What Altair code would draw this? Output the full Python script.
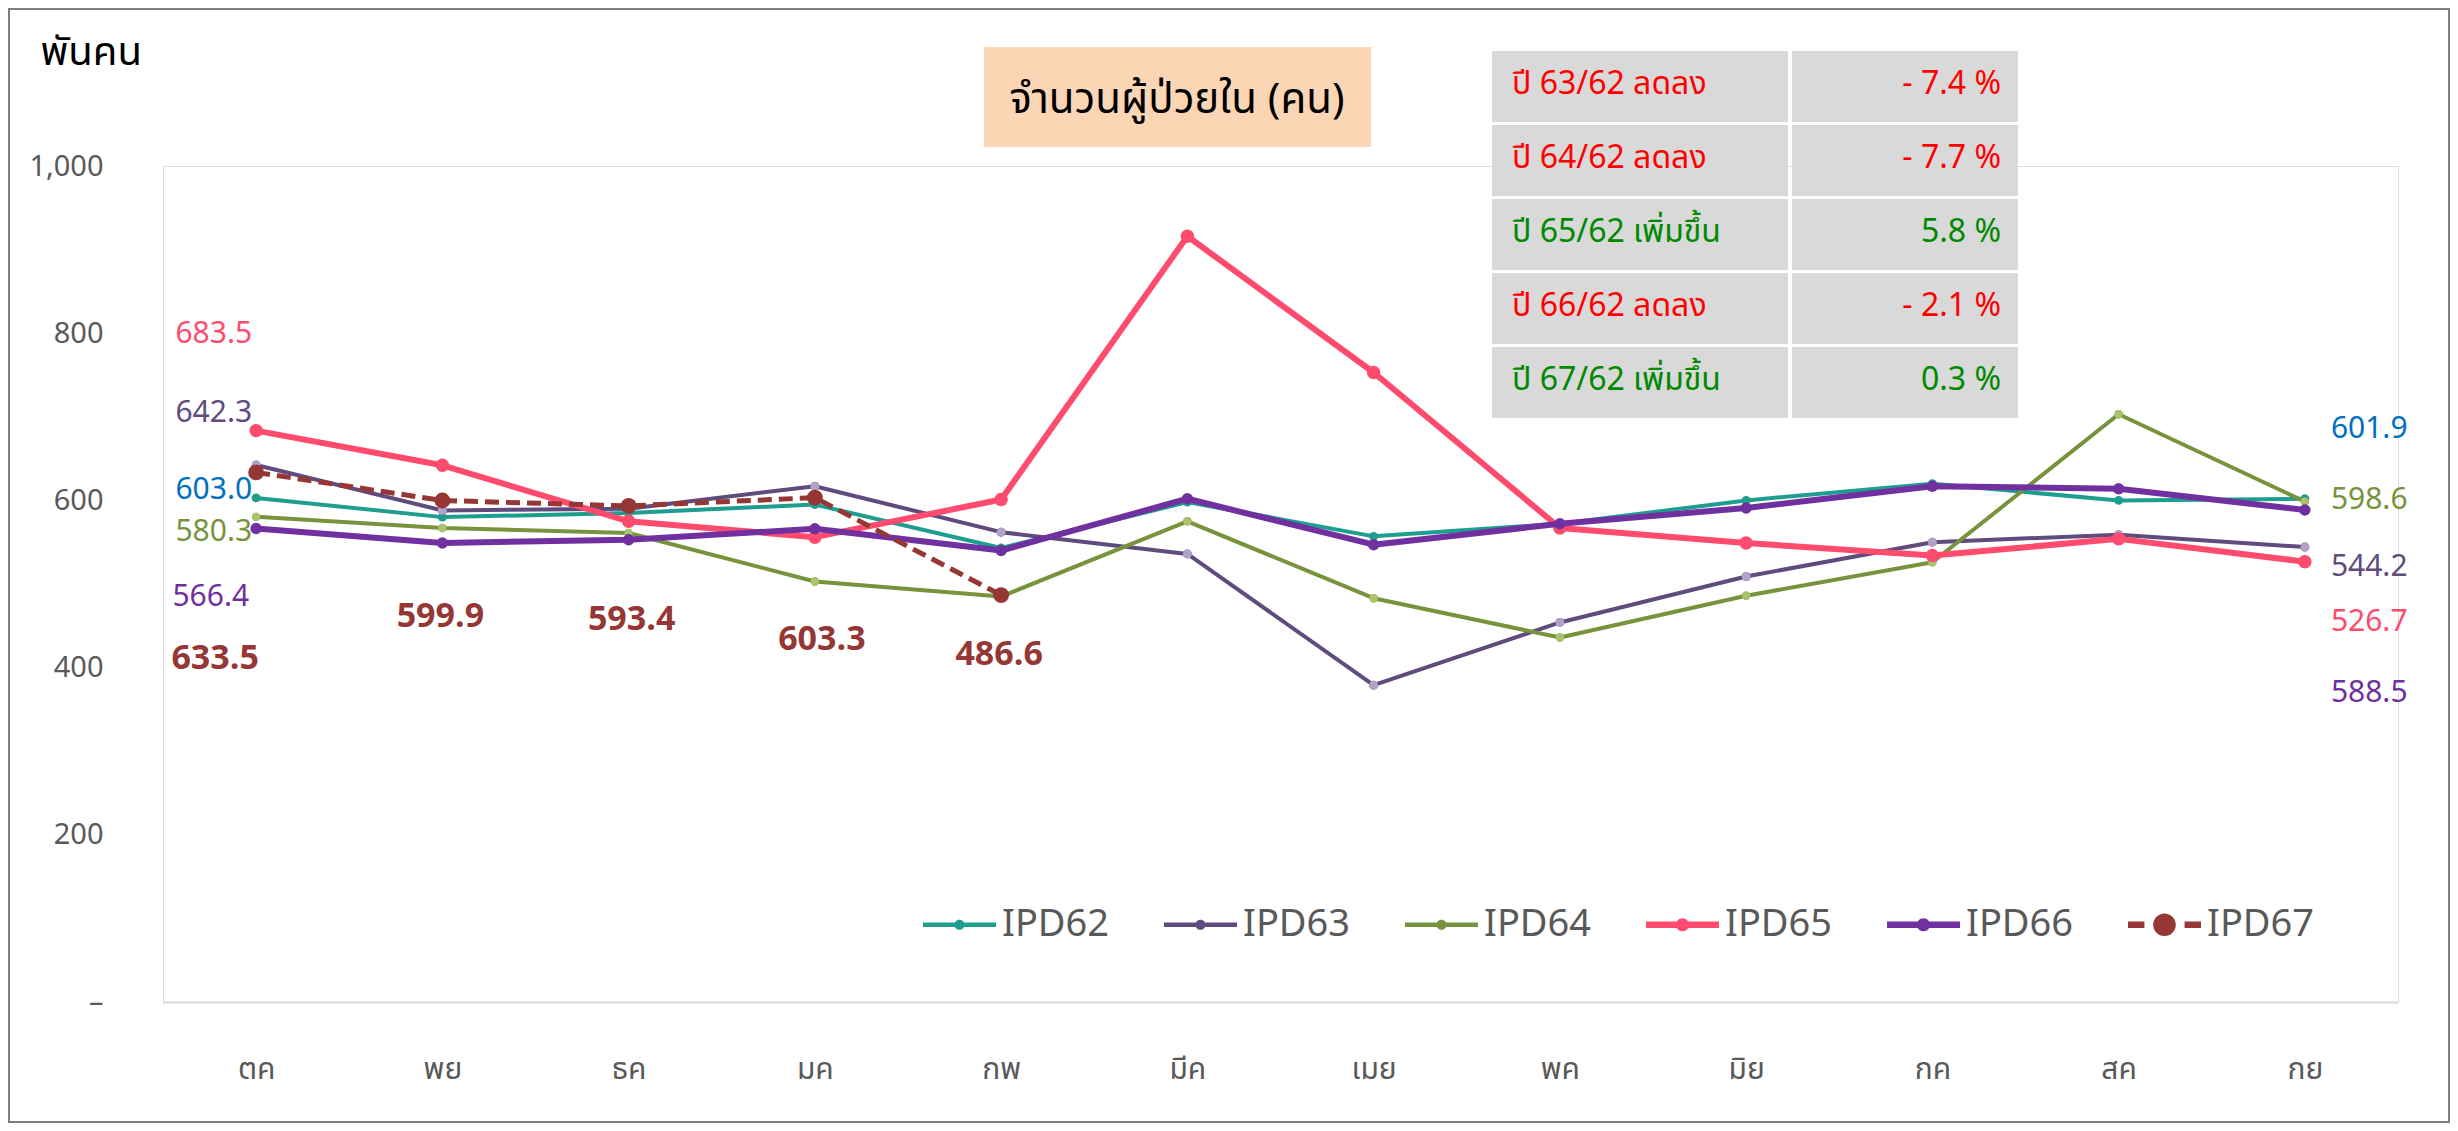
import altair as alt
import pandas as pd

# ---------------- data ----------------
months = ["ตค", "พย", "ธค", "มค", "กพ", "มีค", "เมย", "พค", "มิย", "กค", "สค", "กย"]
series_names = ["IPD62", "IPD63", "IPD64", "IPD65", "IPD66", "IPD67"]

ipd62 = [603.0, 580.0, 585.0, 595.0, 543.0, 598.0, 557.0, 572.0, 600.0, 620.0, 600.0, 601.9]
ipd63 = [642.3, 588.0, 590.0, 617.0, 562.0, 536.0, 379.0, 454.0, 509.0, 550.0, 559.0, 544.2]
ipd64 = [580.3, 567.0, 561.0, 503.0, 485.0, 575.0, 483.0, 436.0, 486.0, 526.0, 703.0, 598.6]
ipd65 = [683.5, 642.0, 575.0, 556.0, 601.0, 916.0, 753.0, 567.0, 549.0, 534.0, 554.0, 526.7]
ipd66 = [566.4, 549.0, 553.0, 566.0, 540.0, 602.0, 547.0, 572.0, 591.0, 617.0, 614.0, 588.5]
ipd67 = [633.5, 599.9, 593.4, 603.3, 486.6]

series_values = [ipd62, ipd63, ipd64, ipd65, ipd66, ipd67]

title_text = "จำนวนผู้ป่วยใน (คน)"
y_title = "พันคน"
y_ticks = [0, 200, 400, 600, 800, 1000]

table_labels = ["ปี 63/62 ลดลง", "ปี 64/62 ลดลง", "ปี 65/62 เพิ่มขึ้น", "ปี 66/62 ลดลง", "ปี 67/62 เพิ่มขึ้น"]
table_values = ["- 7.4 %", "- 7.7 %", "5.8 %", "- 2.1 %", "0.3 %"]
table_up = [False, False, True, False, True]

# ---------------- styles ----------------
FONT = "Noto Sans Thai, Noto Sans, Lato, sans-serif"
line_colors = ["#1e9e8e", "#5f4b7d", "#77933c", "#ff4b6e", "#7030a0", "#953735"]
marker_colors = ["#1e9e8e", "#b3a2c7", "#a9c46d", "#ff4b6e", "#7030a0", "#953735"]
line_widths = [4, 4, 4, 6, 6, 5]
marker_sizes = [80, 80, 70, 180, 130, 250]
label_colors = {"IPD62": "#0070c0", "IPD63": "#5f4b7d", "IPD64": "#77933c",
                "IPD65": "#ff4b6e", "IPD66": "#7030a0", "IPD67": "#953735"}

# label offsets (px) : (series, month index, dx, dy, align, bold)
label_specs = [
    ("IPD65", 0, -4, -97, "right", False),
    ("IPD63", 0, -4, -52, "right", False),
    ("IPD62", 0, -4, -8, "right", False),
    ("IPD64", 0, -4, 15, "right", False),
    ("IPD66", 0, -7, 69, "right", False),
    ("IPD67", 0, -41, 187, "center", True),
    ("IPD67", 1, -2, 117, "center", True),
    ("IPD67", 2, 3, 114, "center", True),
    ("IPD67", 3, 7, 142, "center", True),
    ("IPD67", 4, -2, 60, "center", True),
    ("IPD62", 11, 26, -70, "left", False),
    ("IPD64", 11, 26, -2, "left", False),
    ("IPD63", 11, 26, 20, "left", False),
    ("IPD65", 11, 26, 60, "left", False),
    ("IPD66", 11, 26, 183, "left", False),
]

W, H = 2235, 836

# ---------------- build data ----------------
frames = []
for name, vals in zip(series_names, series_values):
    frames.append(pd.DataFrame({"month": months[:len(vals)], "value": vals, "series": name}))
df = pd.concat(frames, ignore_index=True)

x_enc = alt.X("month:O", sort=months,
              scale=alt.Scale(type="point", padding=0.5, domain=months),
              axis=alt.Axis(title=None, labelAngle=0, labelFontSize=30, labelColor="#595959",
                            labelFont=FONT, labelPadding=52, ticks=False, domainColor="#d9d9d9",
                            domainWidth=2, grid=False))
x_plain = alt.X("month:O", sort=months)
y_enc = alt.Y("value:Q", scale=alt.Scale(domain=[0, 1000], nice=False, zero=True),
              axis=alt.Axis(values=y_ticks, title=y_title, titleAngle=0, titleX=-123, titleY=-114,
                            titleAlign="left", titleBaseline="middle", titleFontSize=40,
                            titleFontWeight="normal", titleColor="#000000", titleFont=FONT,
                            labelExpr="datum.value == 0 ? '–\u00a0\u00a0\u00a0' : format(datum.value, ',')",
                            labelFontSize=29, labelColor="#595959", labelFont=FONT,
                            labelPadding=60, ticks=False, tickSize=0, grid=False,
                            domainColor="#d9d9d9", domainWidth=1))

thin = "M-1,-0.065H1V0.065H-1Z M0.14,0A0.14,0.14,0,1,1,-0.14,0A0.14,0.14,0,1,1,0.14,0Z"
thick = "M-1,-0.09H1V0.09H-1Z M0.18,0A0.18,0.18,0,1,1,-0.18,0A0.18,0.18,0,1,1,0.18,0Z"
dashed = ("M-1,-0.09H-0.55V0.09H-1Z M0.55,-0.09H1V0.09H0.55Z "
          "M0.31,0A0.31,0.31,0,1,1,-0.31,0A0.31,0.31,0,1,1,0.31,0Z")
shape_expr = ("datum.value === 'IPD67' ? '" + dashed + "' : "
              "(datum.value === 'IPD65' || datum.value === 'IPD66') ? '" + thick + "' : '" + thin + "'")

legend = alt.Legend(title=None, orient="none", legendX=760, legendY=722, direction="horizontal",
                    columns=6, symbolSize=5329, labelFontSize=38, labelColor="#595959",
                    labelFont=FONT, labelOffset=6, columnPadding=54,
                    symbolType=alt.ExprRef(expr=shape_expr), symbolStrokeWidth=0,
                    symbolOpacity=1)

color_enc = alt.Color("series:N", scale=alt.Scale(domain=series_names, range=line_colors),
                      legend=legend)

layers = []
for i, name in enumerate(series_names):
    sdf = df[df["series"] == name]
    base = alt.Chart(sdf)
    line_kwargs = dict(strokeWidth=line_widths[i], strokeJoin="round", color=line_colors[i])
    if name == "IPD67":
        line_kwargs["strokeDash"] = [14, 7]
    else:
        line_kwargs["strokeCap"] = "round"
    if i == 0:
        layers.append(base.mark_line(**line_kwargs).encode(x=x_enc, y=y_enc))
    else:
        layers.append(base.mark_line(**line_kwargs).encode(x=x_plain, y="value:Q"))
    # markers (these carry the legend)
    layers.append(base.mark_circle(size=marker_sizes[i], opacity=1)
                  .encode(x=x_plain, y="value:Q", color=color_enc))
    if marker_colors[i] != line_colors[i]:
        layers.append(base.mark_circle(size=marker_sizes[i], color=marker_colors[i], opacity=1)
                      .encode(x=x_plain, y="value:Q"))

# data labels
for name, mi, dx, dy, align, bold in label_specs:
    row = df[(df["series"] == name) & (df["month"] == months[mi])]
    layers.append(alt.Chart(row).mark_text(
        dx=dx, dy=dy, align=align, baseline="middle", font=FONT,
        fontSize=34 if bold else 30, fontWeight="bold" if bold else "normal",
        color=label_colors[name]).encode(x=x_plain, y="value:Q", text=alt.Text("value:Q", format=".1f")))

one = alt.Data(values=[{"k": 1}])

# title box
layers.append(alt.Chart(one).mark_rect(color="#fcd5b5").encode(
    x=alt.value(821), x2=alt.value(1208), y=alt.value(-119), y2=alt.value(-19)))
layers.append(alt.Chart(one).mark_text(font=FONT, fontSize=42, color="#000000", align="center",
                                       baseline="middle").encode(
    x=alt.value(1014), y=alt.value(-66), text=alt.value(title_text)))

# percentage table
for r, (lab, val, up) in enumerate(zip(table_labels, table_values, table_up)):
    top = -115 + 74 * r
    col = "#008a00" if up else "#ff0000"
    layers.append(alt.Chart(one).mark_rect(color="#d9d9d9").encode(
        x=alt.value(1329), x2=alt.value(1625), y=alt.value(top), y2=alt.value(top + 71)))
    layers.append(alt.Chart(one).mark_rect(color="#d9d9d9").encode(
        x=alt.value(1629), x2=alt.value(1855), y=alt.value(top), y2=alt.value(top + 71)))
    layers.append(alt.Chart(one).mark_text(font=FONT, fontSize=32, color=col, align="left",
                                           baseline="middle").encode(
        x=alt.value(1349), y=alt.value(top + 33), text=alt.value(lab)))
    layers.append(alt.Chart(one).mark_text(font=FONT, fontSize=32, color=col, align="right",
                                           baseline="middle").encode(
        x=alt.value(1838), y=alt.value(top + 33), text=alt.value(val)))

# outer frame
layers.append(alt.Chart(one).mark_rect(fill=None, stroke="#7f7f7f", strokeWidth=2).encode(
    x=alt.value(-154), x2=alt.value(2286), y=alt.value(-157), y2=alt.value(956)))

chart = alt.layer(*layers).properties(
    width=W, height=H,
    autosize=alt.AutoSizeParams(type="none"),
    padding={"left": 155, "top": 158, "right": 52, "bottom": 121},
).configure_view(stroke=None).configure(background="#ffffff")

chart.save("out.html", embed_options={"renderer": "svg", "actions": False})
